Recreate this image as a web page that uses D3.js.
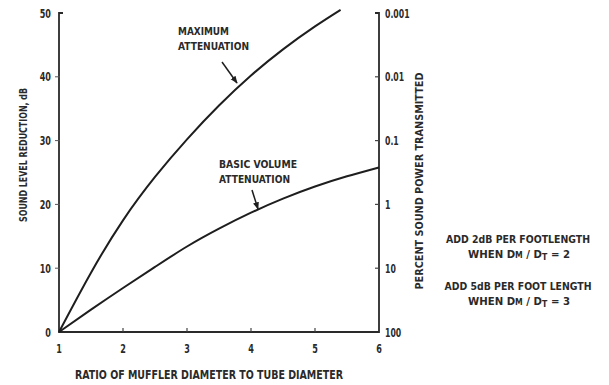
<!DOCTYPE html>
<html>
<head>
<meta charset="utf-8">
<script src="https://cdn.jsdelivr.net/npm/d3@7"></script>
<style>
  body { margin: 0; background: #fff; }
  svg text { font-family: "DejaVu Sans Condensed", "DejaVu Sans", sans-serif; font-stretch: condensed; font-weight: bold; fill: #2a2a2a; }
  .curve { fill: none; stroke: #1e1e1e; stroke-width: 2; }
  .axis-line { fill: none; stroke: #2a2a2a; stroke-width: 1.8; }
</style>
</head>
<body>
<div id="chart"></div>
<script>
const ratioTicks = [1, 2, 3, 4, 5, 6];
const dbTicks = [0, 10, 20, 30, 40, 50];
const percentTicks = [100, 10, 1, 0.1, 0.01, 0.001];
const percentLabels = ['100', '10', '1', '0.1', '0.01', '0.001'];

const maxRatio = [1, 1.5, 2, 2.5, 3, 3.5, 4, 4.5, 5, 5.4];
const maxDb = [0, 9.3, 17.5, 24.3, 30.2, 35.5, 40.2, 44.3, 47.9, 50.5];

const basicRatio = [1, 1.5, 2, 2.5, 3, 3.5, 4, 4.5, 5, 5.5, 6];
const basicDb = [0, 3.5, 6.9, 10.2, 13.4, 16.2, 18.7, 20.9, 22.8, 24.4, 25.8];

const notes = [
  ['ADD 2dB PER FOOTLENGTH', 'WHEN D', 'M', ' / D', 'T', ' = 2'],
  ['ADD 5dB PER FOOT LENGTH', 'WHEN D', 'M', ' / D', 'T', ' = 3']
];

const width = 609, height = 385;
const plotLeft = 59, plotRight = 379, plotTop = 13, plotBottom = 332;
const tick = 4;
const squeeze = 0.72;

let svg = d3.select('#chart').append('svg')
  .attr('width', width)
  .attr('height', height)

let x = d3.scaleLinear().domain([1, 6]).range([plotLeft, plotRight]);
let y = d3.scaleLinear().domain([0, 50]).range([plotBottom, plotTop]);
let yPct = d3.scaleLog().domain([100, 0.001]).range([plotBottom, plotTop]);

// narrow text: the original lettering is a tall condensed face
let narrow = (parent, px, py, str, size, anchor) => {
  parent.append('g')
    .attr('transform', `translate(${px}, ${py}) scale(${squeeze}, 1)`)
    .append('text')
      .attr('text-anchor', anchor)
      .attr('font-size', size)
      .text(str)
};

let fitted = (px, py, str, size, len, anchor) => svg.append('text')
  .attr('x', px)
  .attr('y', py)
  .attr('font-size', size)
  .attr('text-anchor', anchor || 'start')
  .attr('textLength', len)
  .attr('lengthAdjust', 'spacingAndGlyphs')
  .text(str)

// frame: left, bottom, right axes with the little hooks at the top
svg.append('path')
  .classed('axis-line', true)
  .attr('d', `M${plotLeft + 4},${plotTop} H${plotLeft} V${plotBottom} H${plotRight} V${plotTop} H${plotRight - 4}`)

// left ticks
let gl = svg.append('g');
dbTicks.forEach(d => {
  if (d !== 0 && d !== 50) {
    gl.append('line').attr('x1', plotLeft - tick).attr('x2', plotLeft + 1)
      .attr('y1', y(d)).attr('y2', y(d)).attr('stroke', '#555').attr('stroke-width', 1);
  }
  narrow(gl, plotLeft - 8, y(d) + 4.5, d, 12.5, 'end');
});

// bottom ticks
let gb = svg.append('g');
ratioTicks.forEach(d => {
  if (d !== 1 && d !== 6) {
    gb.append('line').attr('x1', x(d)).attr('x2', x(d))
      .attr('y1', plotBottom - tick).attr('y2', plotBottom).attr('stroke', '#444').attr('stroke-width', 1.2);
  }
  narrow(gb, x(d), plotBottom + 21, d, 12.5, 'middle');
});

// right ticks (log)
let gr = svg.append('g');
percentTicks.forEach((d, i) => {
  if (d !== 100 && d !== 0.001) {
    gr.append('line').attr('x1', plotRight - tick).attr('x2', plotRight)
      .attr('y1', yPct(d)).attr('y2', yPct(d)).attr('stroke', '#444').attr('stroke-width', 1.2);
  }
  narrow(gr, plotRight + 6, yPct(d) + 4.5, percentLabels[i], 12, 'start');
});

// axis titles
fitted(0, 0, 'SOUND LEVEL REDUCTION, dB', 10, 134, 'middle')
  .attr('transform', 'translate(27, 155) rotate(-90)')

fitted(0, 0, 'PERCENT SOUND POWER TRANSMITTED', 11, 217, 'middle')
  .attr('transform', 'translate(423, 181) rotate(-90)')

fitted(209, 379, 'RATIO OF MUFFLER DIAMETER TO TUBE DIAMETER', 12, 268, 'middle')

// curves
let line = d3.line()
  .x(d => x(d[0]))
  .y(d => y(d[1]))
  .curve(d3.curveNatural)

svg.append('path')
  .classed('curve', true)
  .datum(maxRatio.map((r, i) => [r, maxDb[i]]))
  .attr('d', line)

svg.append('path')
  .classed('curve', true)
  .datum(basicRatio.map((r, i) => [r, basicDb[i]]))
  .attr('d', line)

// annotations with arrows
svg.append('defs').append('marker')
  .attr('id', 'head')
  .attr('viewBox', '0 0 10 10')
  .attr('refX', 9).attr('refY', 5)
  .attr('markerWidth', 5).attr('markerHeight', 5)
  .attr('orient', 'auto')
  .append('path')
    .attr('d', 'M0,1 L10,5 L0,9 Z')
    .attr('fill', '#1e1e1e')

fitted(178, 35, 'MAXIMUM', 11, 51);
fitted(178, 50, 'ATTENUATION', 11, 71);
svg.append('line')
  .attr('x1', 222).attr('y1', 62)
  .attr('x2', 237).attr('y2', 83)
  .attr('stroke', '#1e1e1e').attr('stroke-width', 1.5)
  .attr('marker-end', 'url(#head)')

fitted(219, 168, 'BASIC VOLUME', 11, 78);
fitted(219, 183, 'ATTENUATION', 11, 71);
svg.append('line')
  .attr('x1', 252).attr('y1', 190)
  .attr('x2', 258).attr('y2', 209)
  .attr('stroke', '#1e1e1e').attr('stroke-width', 1.5)
  .attr('marker-end', 'url(#head)')

// side notes
notes.forEach((n, i) => {
  let base = 243 + i * 47;
  fitted(518, base, n[0], 10.5, i ? 147 : 144, 'middle')
  let w = fitted(519, base + 15, '', 10.5, 102, 'middle')
  w.append('tspan').text(n[1])
  w.append('tspan').attr('font-size', 8).text(n[2])
  w.append('tspan').text(n[3])
  w.append('tspan').attr('font-size', 8).attr('dy', 2).text(n[4])
  w.append('tspan').attr('dy', -2).text(n[5])
});
</script>
</body>
</html>
